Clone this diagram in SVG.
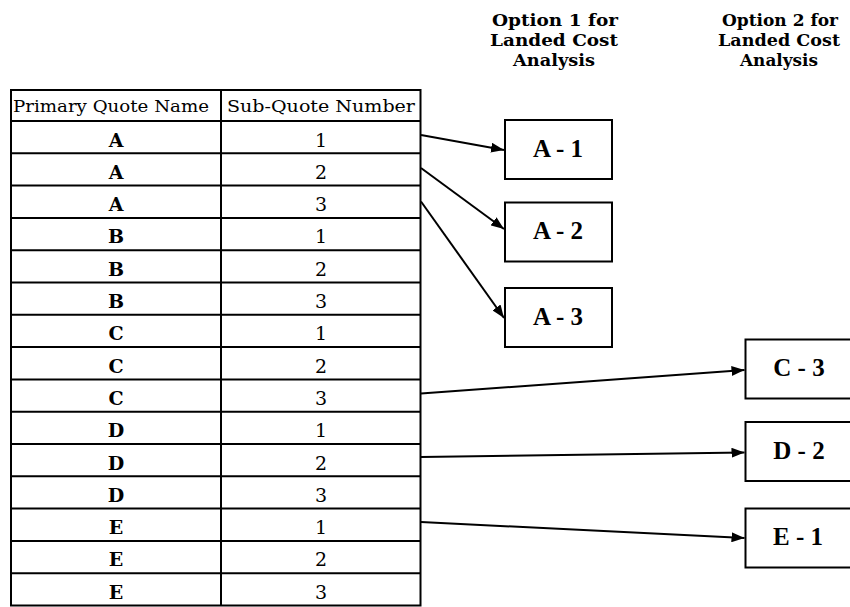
<svg xmlns="http://www.w3.org/2000/svg" width="850" height="607" viewBox="0 0 850 607">
  <defs>
    <marker id="arrowhead" markerUnits="userSpaceOnUse" markerWidth="14" markerHeight="10" refX="13" refY="5" orient="auto">
      <path d="M0,0 L13,5 L0,10 z" fill="#000"/>
    </marker>
    <style>
      .grid { fill: none; stroke: #000; stroke-width: 2; }
      .hdr { font-family: "DejaVu Serif", "Liberation Serif", serif; font-size: 16.5px; fill: #000; }
      .key { font-family: "DejaVu Serif", "Liberation Serif", serif; font-size: 19px; font-weight: bold; fill: #000; text-anchor: middle; }
      .num { font-family: "DejaVu Serif", "Liberation Serif", serif; font-size: 19px; fill: #000; text-anchor: middle; }
      .title { font-family: "DejaVu Serif", "Liberation Serif", serif; font-size: 17px; font-weight: bold; fill: #000; }
      .box { fill: #fff; stroke: #000; stroke-width: 2; }
      .lbl { font-family: "Liberation Serif", "Times New Roman", serif; font-size: 25px; font-weight: bold; fill: #000; text-anchor: middle; }
      .conn { stroke: #000; stroke-width: 2; fill: none; marker-end: url(#arrowhead); }
    </style>
  </defs>
  <rect width="850" height="607" fill="#fff"/>

  <!-- column headings for the two analysis options -->
  <g id="heading-option1">
    <text class="title" x="492" y="25.5" textLength="126" lengthAdjust="spacingAndGlyphs">Option 1 for</text>
    <text class="title" x="490" y="45.5" textLength="128" lengthAdjust="spacingAndGlyphs">Landed Cost</text>
    <text class="title" x="513" y="65.5" textLength="82" lengthAdjust="spacingAndGlyphs">Analysis</text>
  </g>
  <g id="heading-option2">
    <text class="title" x="722" y="25.5" textLength="116" lengthAdjust="spacingAndGlyphs">Option 2 for</text>
    <text class="title" x="718" y="45.5" textLength="122" lengthAdjust="spacingAndGlyphs">Landed Cost</text>
    <text class="title" x="740" y="65.5" textLength="78" lengthAdjust="spacingAndGlyphs">Analysis</text>
  </g>

  <!-- quote table: header row plus 15 rows of 32.3px -->
  <g id="quote-table">
    <rect class="grid" x="11" y="90" width="409.5" height="515.5"/>
    <line class="grid" x1="221" y1="90" x2="221" y2="605.5"/>
    <g class="grid">
      <line x1="11" y1="121" x2="420.5" y2="121"/>
      <line x1="11" y1="153.3" x2="420.5" y2="153.3"/>
      <line x1="11" y1="185.6" x2="420.5" y2="185.6"/>
      <line x1="11" y1="217.9" x2="420.5" y2="217.9"/>
      <line x1="11" y1="250.2" x2="420.5" y2="250.2"/>
      <line x1="11" y1="282.5" x2="420.5" y2="282.5"/>
      <line x1="11" y1="314.8" x2="420.5" y2="314.8"/>
      <line x1="11" y1="347.1" x2="420.5" y2="347.1"/>
      <line x1="11" y1="379.4" x2="420.5" y2="379.4"/>
      <line x1="11" y1="411.7" x2="420.5" y2="411.7"/>
      <line x1="11" y1="444" x2="420.5" y2="444"/>
      <line x1="11" y1="476.3" x2="420.5" y2="476.3"/>
      <line x1="11" y1="508.6" x2="420.5" y2="508.6"/>
      <line x1="11" y1="540.9" x2="420.5" y2="540.9"/>
      <line x1="11" y1="573.2" x2="420.5" y2="573.2"/>
    </g>
    <text class="hdr" x="13" y="112" textLength="196" lengthAdjust="spacingAndGlyphs">Primary Quote Name</text>
    <text class="hdr" x="227" y="112" textLength="188" lengthAdjust="spacingAndGlyphs">Sub-Quote Number</text>

    <text class="key" x="116" y="146.5">A</text><text class="num" x="321" y="146.5">1</text>
    <text class="key" x="116" y="178.8">A</text><text class="num" x="321" y="178.8">2</text>
    <text class="key" x="116" y="211.1">A</text><text class="num" x="321" y="211.1">3</text>
    <text class="key" x="116" y="243.4">B</text><text class="num" x="321" y="243.4">1</text>
    <text class="key" x="116" y="275.7">B</text><text class="num" x="321" y="275.7">2</text>
    <text class="key" x="116" y="308">B</text><text class="num" x="321" y="308">3</text>
    <text class="key" x="116" y="340.3">C</text><text class="num" x="321" y="340.3">1</text>
    <text class="key" x="116" y="372.6">C</text><text class="num" x="321" y="372.6">2</text>
    <text class="key" x="116" y="404.9">C</text><text class="num" x="321" y="404.9">3</text>
    <text class="key" x="116" y="437.2">D</text><text class="num" x="321" y="437.2">1</text>
    <text class="key" x="116" y="469.5">D</text><text class="num" x="321" y="469.5">2</text>
    <text class="key" x="116" y="501.8">D</text><text class="num" x="321" y="501.8">3</text>
    <text class="key" x="116" y="534.1">E</text><text class="num" x="321" y="534.1">1</text>
    <text class="key" x="116" y="566.4">E</text><text class="num" x="321" y="566.4">2</text>
    <text class="key" x="116" y="598.7">E</text><text class="num" x="321" y="598.7">3</text>
  </g>

  <!-- option 1 targets -->
  <g id="node-a1">
    <rect class="box" x="505" y="120" width="107" height="59"/>
    <text class="lbl" x="558" y="156.5">A - 1</text>
  </g>
  <g id="node-a2">
    <rect class="box" x="505" y="202.5" width="107" height="59"/>
    <text class="lbl" x="558" y="239">A - 2</text>
  </g>
  <g id="node-a3">
    <rect class="box" x="505" y="288" width="107" height="59"/>
    <text class="lbl" x="558" y="324.5">A - 3</text>
  </g>

  <!-- option 2 targets (run off the right edge) -->
  <g id="node-c3">
    <rect class="box" x="745.5" y="339.5" width="130" height="59"/>
    <text class="lbl" x="799" y="376">C - 3</text>
  </g>
  <g id="node-d2">
    <rect class="box" x="745.5" y="422" width="130" height="59"/>
    <text class="lbl" x="799" y="458.5">D - 2</text>
  </g>
  <g id="node-e1">
    <rect class="box" x="745.5" y="508.5" width="130" height="59"/>
    <text class="lbl" x="798" y="545">E - 1</text>
  </g>

  <!-- connectors from table rows to the analysis boxes -->
  <g id="connectors">
    <line class="conn" x1="421" y1="135" x2="504" y2="150"/>
    <line class="conn" x1="421" y1="168" x2="504" y2="229"/>
    <line class="conn" x1="421" y1="201.5" x2="504" y2="318"/>
    <line class="conn" x1="421" y1="393.5" x2="744.5" y2="370"/>
    <line class="conn" x1="421" y1="457" x2="744.5" y2="452.5"/>
    <line class="conn" x1="421" y1="522" x2="744.5" y2="538"/>
  </g>
</svg>
